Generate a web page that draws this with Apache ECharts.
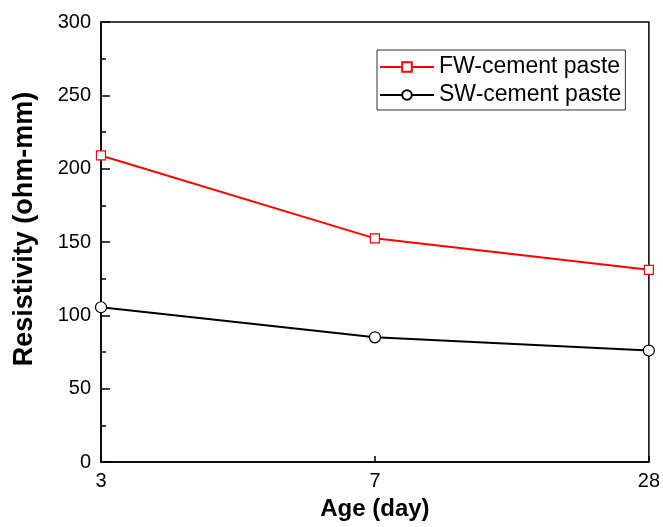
<!DOCTYPE html>
<html><head><meta charset="utf-8">
<script src="https://cdn.jsdelivr.net/npm/echarts@6/dist/echarts.min.js"></script>
<style>html,body{margin:0;padding:0;background:#fff}#c{width:663px;height:527px}</style>
</head><body><div id="c"></div>
<script>
const categories = ['3', '7', '28'];
const fwValues = [209, 152.5, 131];
const swValues = [105.5, 85, 76];
const yTicks = [0, 50, 100, 150, 200, 250, 300];

const chart = echarts.init(document.getElementById('c'), null, {renderer: 'canvas'});
const font = 'Liberation Sans, Arial, sans-serif';
chart.setOption({
  animation: false,
  backgroundColor: '#fff',
  grid: {left: 101, right: 11, top: 22, bottom: 65, show: true, borderColor: '#000', borderWidth: 1.5},
  legend: {
    left: 377, top: 50, orient: 'vertical',
    borderColor: '#333', borderWidth: 1,
    padding: [5, 4, 3, 2], itemGap: 4,
    itemWidth: 54, itemHeight: 12,
    textStyle: {fontFamily: font, fontSize: 23, lineHeight: 24, color: '#000', padding: [0, 0, 0, 0]},
    data: ['FW-cement paste', 'SW-cement paste']
  },
  xAxis: {
    type: 'category', data: categories, boundaryGap: false,
    name: 'Age (day)', nameLocation: 'middle', nameGap: 35,
    nameTextStyle: {fontFamily: font, fontSize: 24, fontWeight: 'bold', color: '#000'},
    axisLine: {lineStyle: {color: '#000', width: 1.5}},
    axisTick: {inside: true, length: 6, lineStyle: {color: '#000', width: 1.5}},
    axisLabel: {fontFamily: font, fontSize: 20, color: '#000', margin: 9},
    splitLine: {show: false}
  },
  yAxis: {
    type: 'value', min: yTicks[0], max: yTicks[yTicks.length - 1], interval: 50,
    name: 'Resistivity (ohm-mm)', nameLocation: 'middle', nameGap: 63,
    nameTextStyle: {fontFamily: font, fontSize: 27, fontWeight: 'bold', color: '#000', padding: [0, 0, 0, 26]},
    axisLine: {show: true, lineStyle: {color: '#000', width: 1.5}},
    axisTick: {show: true, inside: true, length: 9, lineStyle: {color: '#000', width: 1.5}},
    minorTick: {show: true, splitNumber: 2, length: 5, lineStyle: {color: '#000', width: 1.5}},
    axisLabel: {fontFamily: font, fontSize: 20, color: '#000', margin: 10},
    splitLine: {show: false}
  },
  series: [
    {
      name: 'FW-cement paste', type: 'line', data: fwValues,
      symbol: 'rect', symbolSize: 9,
      lineStyle: {color: '#ff0000', width: 2},
      itemStyle: {color: '#fff', borderColor: '#ff0000', borderWidth: 1.2}
    },
    {
      name: 'SW-cement paste', type: 'line', data: swValues,
      symbol: 'circle', symbolSize: 11,
      lineStyle: {color: '#000', width: 2},
      itemStyle: {color: '#fff', borderColor: '#000', borderWidth: 1.2}
    }
  ]
});
</script></body></html>
